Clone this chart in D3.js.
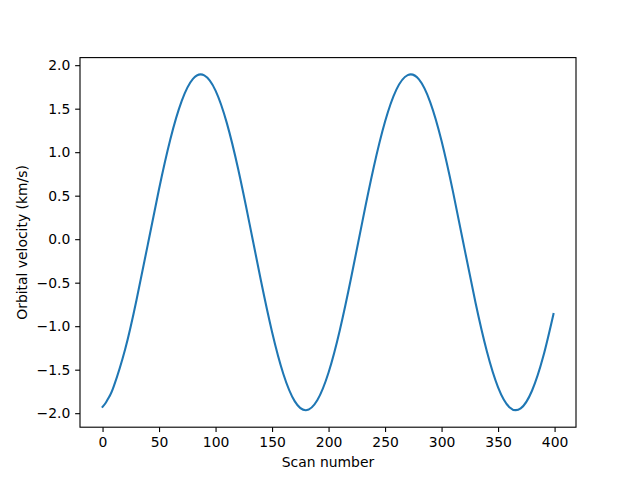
<!DOCTYPE html>
<html lang="en">
<head>
  <meta charset="UTF-8">
  <title>Orbital velocity</title>
  <script src="https://d3js.org/d3.v7.min.js"></script>
  <style>
    body { margin: 0; background: #fff; }
    svg { display: block; font-family: "DejaVu Sans", sans-serif; }
    .tick text { font-size: 13.9px; fill: #000; }
    .axis-label { font-size: 13.9px; fill: #000; }
  </style>
</head>
<body>
<svg width="640" height="480"></svg>
<script>
// scan number vs orbital velocity (km/s)
const scans = [0, 3, 6, 10, 20, 30, 40, 50, 60, 70, 80, 90, 100, 110, 120, 130, 140, 150, 160, 170, 180,
  190, 200, 210, 220, 230, 240, 250, 260, 270, 280, 290, 300, 310, 320, 330, 340, 350, 360,
  370, 380, 390, 399];
const velocity = [-1.927, -1.877, -1.809, -1.690, -1.266, -0.702, -0.065, 0.577, 1.149, 1.587, 1.842, 1.883, 1.708, 1.334, 0.806, 0.182, -0.466, -1.066, -1.549, -1.861, -1.966,
  -1.852, -1.533, -1.044, -0.441, 0.208, 0.829, 1.352, 1.719, 1.886, 1.836, 1.573, 1.128, 0.552, -0.091, -0.728, -1.286, -1.703, -1.931,
  -1.945, -1.742, -1.346, -0.861];
const xTicks = [0, 50, 100, 150, 200, 250, 300, 350, 400];
const yTicks = [-2.0, -1.5, -1.0, -0.5, 0.0, 0.5, 1.0, 1.5, 2.0];

const plotLeft = 80, plotRight = 576, plotTop = 57.6, plotBottom = 427.2;
const tickLen = 4.86;

const svg = d3.select("svg");

// matplotlib style 5% margins around the data (peaks sit a bit beyond the sampled values)
const xExt = d3.extent(scans);
const yExt = [-1.968, 1.894];
const xPad = (xExt[1] - xExt[0]) * 0.05, yPad = (yExt[1] - yExt[0]) * 0.05;

const x = d3.scaleLinear()
  .domain([xExt[0] - xPad, xExt[1] + xPad])
  .range([plotLeft, plotRight]);
const y = d3.scaleLinear()
  .domain([yExt[0] - yPad, yExt[1] + yPad])
  .range([plotBottom, plotTop]);

const points = scans.map((s, i) => [s, velocity[i]]);

const line = d3.line()
  .x(d => x(d[0]))
  .y(d => y(d[1]))
  .curve(d3.curveNatural);

svg.append("path")
  .datum(points)
  .attr("fill", "none")
  .attr("stroke", "#1f77b4")
  .attr("stroke-width", 2.08)
  .attr("stroke-linecap", "square")
  .attr("d", line);

const fmtMinus = s => s.replace("-", "\u2212");

const xAxis = svg.append("g")
  .attr("transform", `translate(0,${plotBottom})`)
  .call(d3.axisBottom(x).tickValues(xTicks).tickSize(tickLen).tickPadding(4.86)
    .tickFormat(d => fmtMinus(d3.format("d")(d))));

const yAxis = svg.append("g")
  .attr("transform", `translate(${plotLeft},0)`)
  .call(d3.axisLeft(y).tickValues(yTicks).tickSize(tickLen).tickPadding(4.86)
    .tickFormat(d => fmtMinus(d3.format(".1f")(d))));

[xAxis, yAxis].forEach(a => {
  a.attr("font-size", null).attr("font-family", null);
  a.select(".domain").remove();
  a.selectAll(".tick line").attr("stroke", "#000").attr("stroke-width", 1.11);
});

// frame (all four spines)
svg.append("rect")
  .attr("x", plotLeft)
  .attr("y", plotTop)
  .attr("width", plotRight - plotLeft)
  .attr("height", plotBottom - plotTop)
  .attr("fill", "none")
  .attr("stroke", "#000")
  .attr("stroke-width", 1.11);

svg.append("text")
  .attr("class", "axis-label")
  .attr("x", (plotLeft + plotRight) / 2)
  .attr("y", 466.5)
  .attr("text-anchor", "middle")
  .text("Scan number");

svg.append("text")
  .attr("class", "axis-label")
  .attr("transform", `translate(22.5,${(plotTop + plotBottom) / 2}) rotate(-90)`)
  .attr("text-anchor", "middle")
  .attr("dy", "0.35em")
  .text("Orbital velocity (km/s)");
</script>
</body>
</html>
